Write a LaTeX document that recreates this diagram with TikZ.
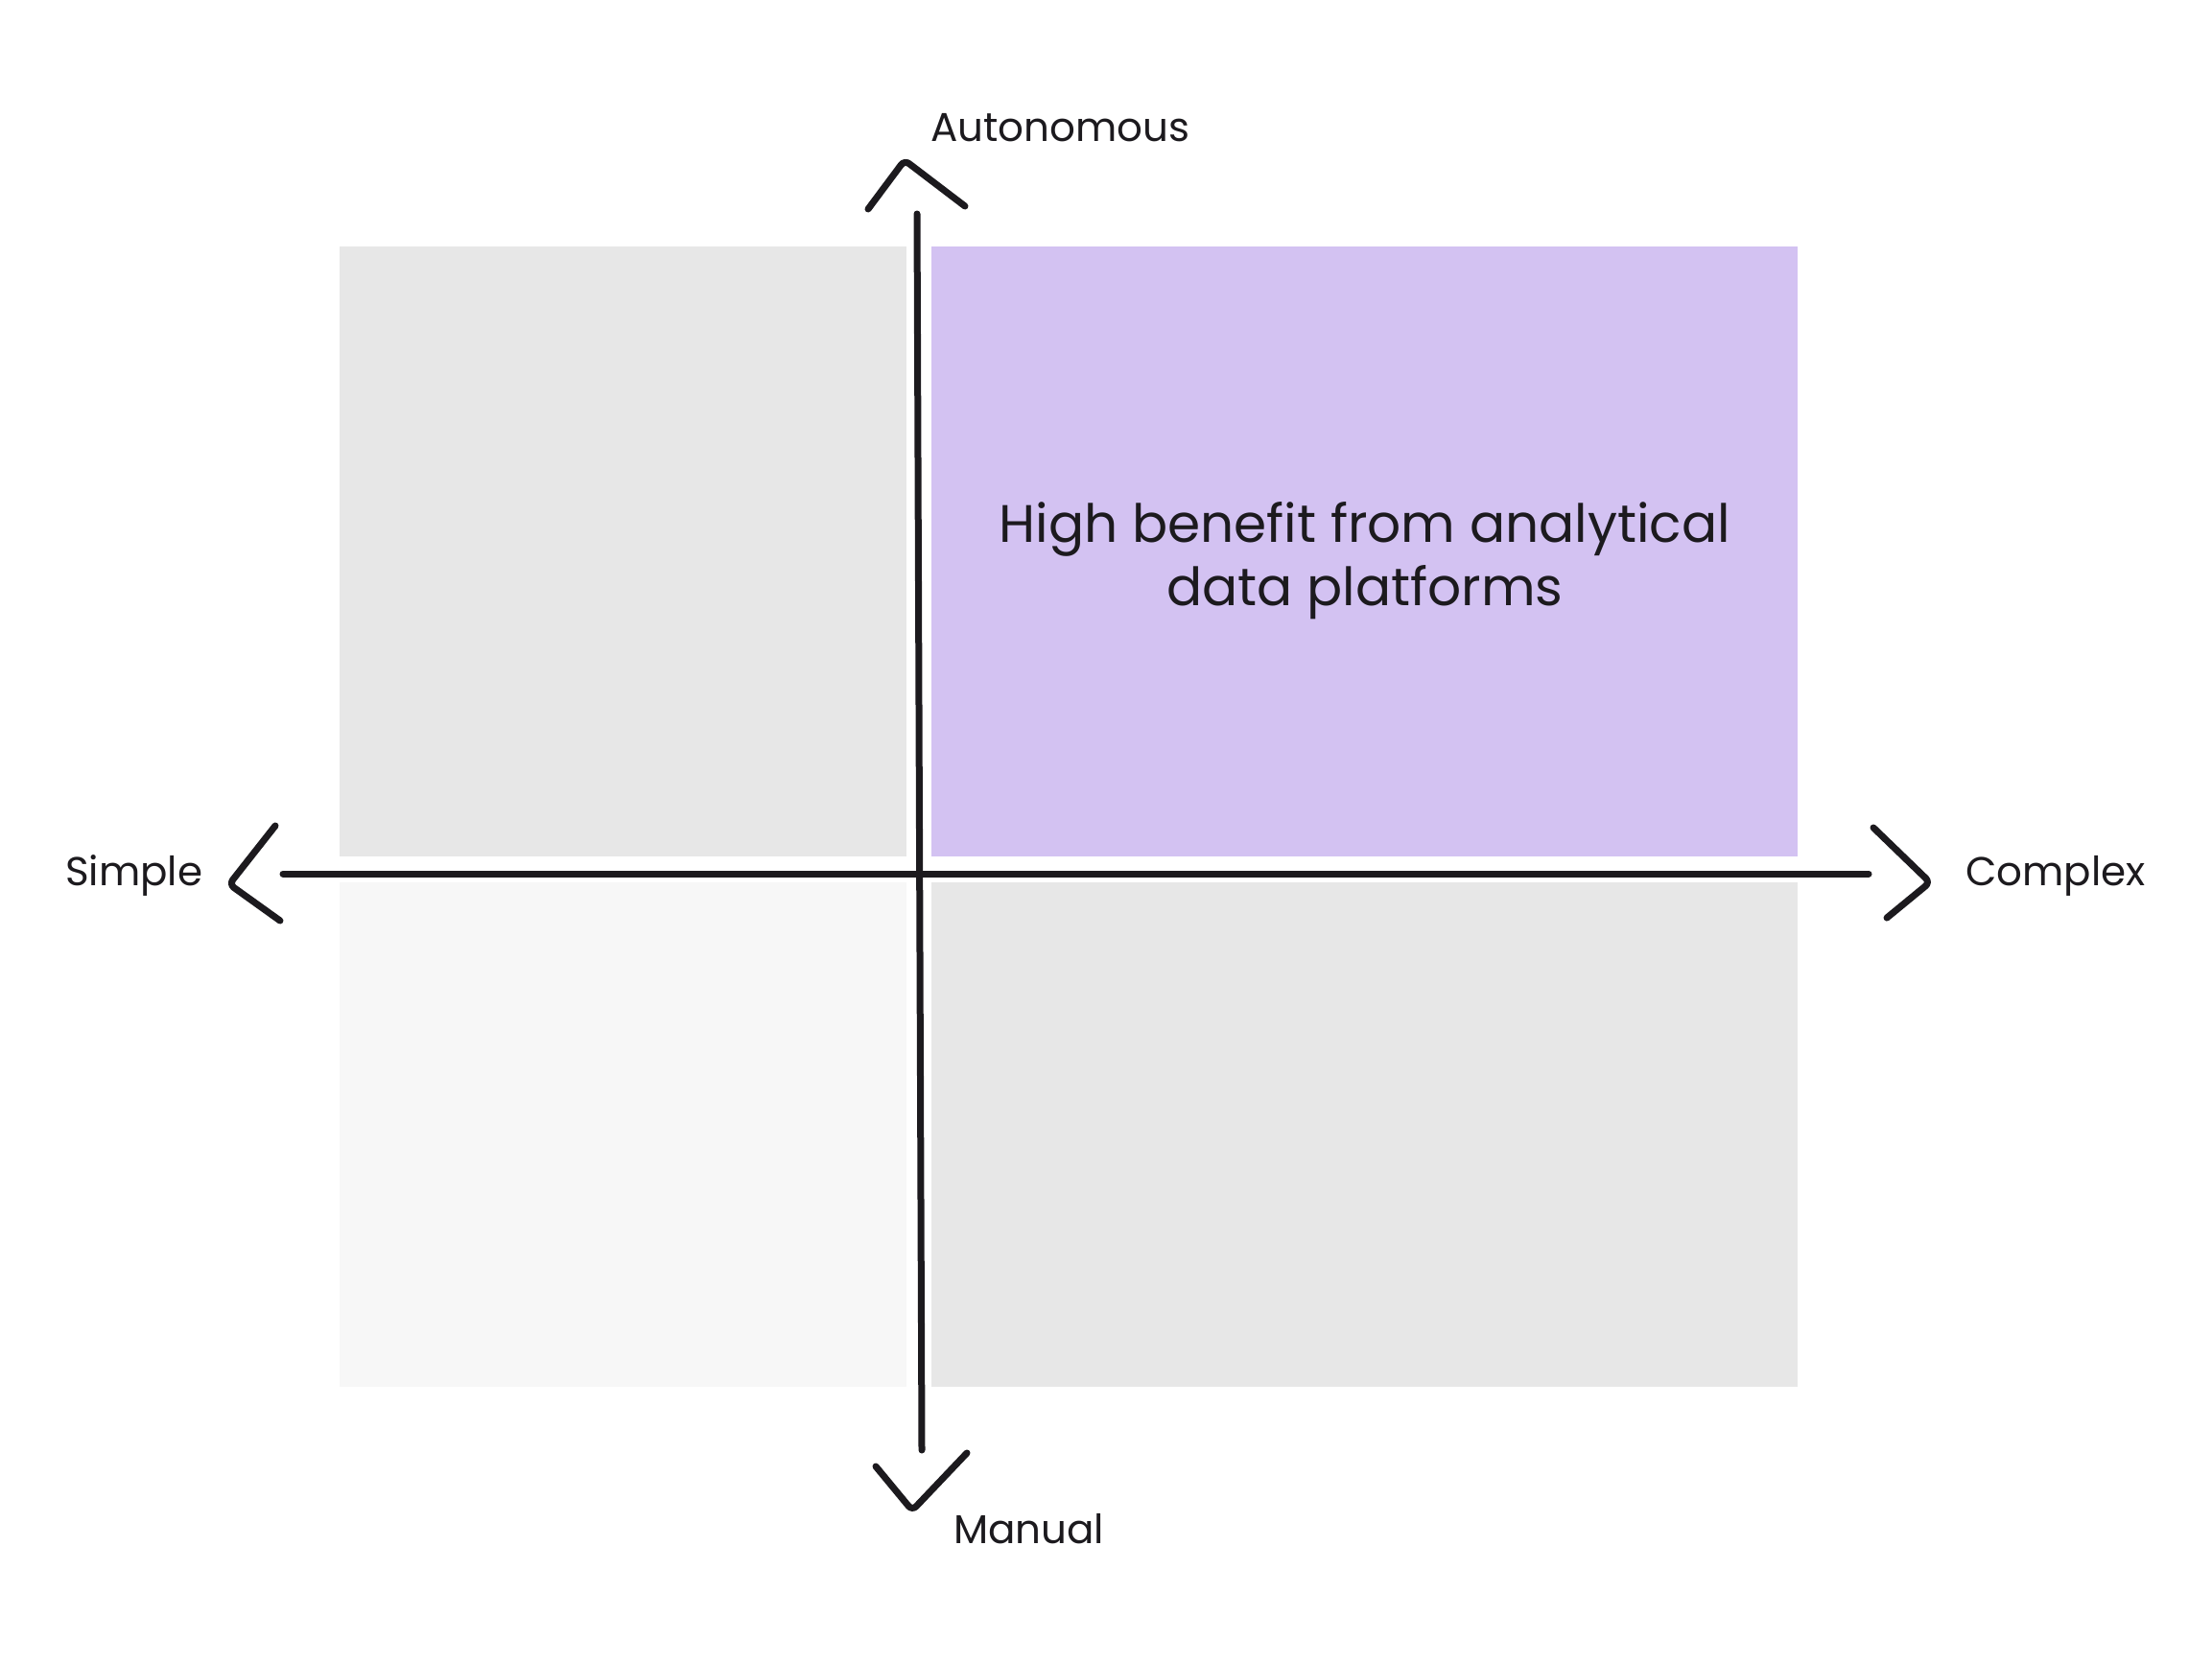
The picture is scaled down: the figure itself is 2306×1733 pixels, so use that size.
\documentclass[tikz,border=0pt]{standalone}
\usepackage{fontspec}
\setmainfont{Poppins}
\definecolor{quadgray}{HTML}{E7E7E7}
\definecolor{quadlight}{HTML}{F7F7F7}
\definecolor{quadpurple}{HTML}{D3C2F2}
\definecolor{ink}{HTML}{1C1A1E}
\begin{document}
\begin{tikzpicture}[x=1pt,y=-1pt,
  quad/.style={rectangle,draw=none,inner sep=0pt,anchor=north west},
  axisline/.style={draw=ink,line width=7pt,line cap=round},
  chevron/.style={draw=ink,line width=7pt,line cap=round,line join=round,rounded corners=6pt},
  axlabel/.style={inner sep=0pt,text=ink,font=\fontsize{42}{50}\selectfont},
  bigtext/.style={align=center,inner sep=0pt,text=ink,font=\fontsize{55}{66}\selectfont}]
\useasboundingbox[fill=white] (0,0) rectangle (2306,1733);
% quadrants
\node[quad,fill=quadgray,minimum width=591pt,minimum height=636pt] (q1) at (354,257) {};
\node[quad,fill=quadpurple,minimum width=903pt,minimum height=636pt] (q2) at (971,257) {};
\node[quad,fill=quadlight,minimum width=591pt,minimum height=526pt] (q3) at (354,920) {};
\node[quad,fill=quadgray,minimum width=903pt,minimum height=526pt] (q4) at (971,920) {};
\node[bigtext] (main) at ([yshift=-9pt]q2.center) {High benefit from analytical\\data platforms};
% axes
\coordinate (vtop) at (956,223);
\coordinate (vbot) at (961,1512);
\coordinate (hleft) at (295,911);
\coordinate (hright) at (1948,911);
\draw[axisline] (vtop) -- (vbot);
\draw[axisline] (hleft) -- (hright);
% chevrons
\coordinate (ta1) at (905,218); \coordinate (ta2) at (943,167); \coordinate (ta3) at (1006,215);
\coordinate (la1) at (287,861); \coordinate (la2) at (239,922); \coordinate (la3) at (292,960);
\coordinate (ra1) at (1953,863); \coordinate (ra2) at (2012,920); \coordinate (ra3) at (1967,957);
\coordinate (ba1) at (913,1529); \coordinate (ba2) at (951,1575); \coordinate (ba3) at (1008,1515);
\draw[chevron] (ta1) -- (ta2) -- (ta3);
\draw[chevron] (la1) -- (la2) -- (la3);
\draw[chevron] (ra1) -- (ra2) -- (ra3);
\draw[chevron] (ba1) -- (ba2) -- (ba3);
% labels
\node[axlabel,anchor=base west] (lauto) at (970,147) {Autonomous};
\node[axlabel,anchor=base west] (lman) at (994,1609) {Manual};
\node[axlabel,anchor=base west] (lsimp) at (68,923) {Simple};
\node[axlabel,anchor=base west] (lcomp) at (2049,923) {Complex};
\end{tikzpicture}
\end{document}
